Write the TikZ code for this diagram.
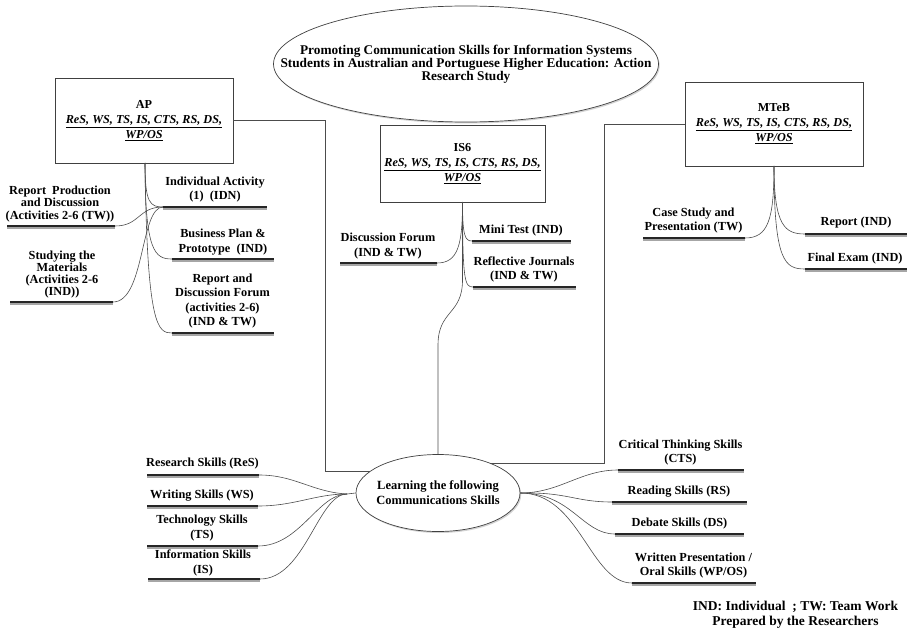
\documentclass[tikz,border=0pt]{standalone}
\usepackage{fontspec}
\setmainfont{Liberation Serif}
\usetikzlibrary{shapes.geometric,shadows}
\newcommand\ubar[2]{%
  \draw[line width=2pt, black!35] ([yshift=-1.6pt]#1) -- ([yshift=-1.6pt]#2);
  \draw[line width=2.6pt, black!85] (#1) -- (#2);}
\begin{document}
\begin{tikzpicture}[x=1pt,y=-1pt,
  lbl/.style={font=\bfseries\fontsize{12.3}{14.2}\selectfont, align=center, inner sep=0pt},
  lbltight/.style={lbl, font=\bfseries\fontsize{12.3}{12.3}\selectfont},
  boxnode/.style={draw=black!75, line width=0.7pt, align=center, inner sep=0pt,
     font=\fontsize{12.2}{15}\selectfont},
  conn/.style={draw=black!70, line width=0.6pt},
  ell/.style={ellipse, draw=black!75, line width=0.7pt, inner sep=0pt,
     drop shadow={shadow xshift=1.2pt, shadow yshift=-1.5pt, fill=black!35}, fill=white}
]
\useasboundingbox (0,0) rectangle (912,631);

% title
\node[ell, minimum width=385pt, minimum height=116pt] (title) at (466,64) {};
\node[lbl, font=\bfseries\fontsize{13.3}{12}\selectfont] (titletxt) at (title.center)
  {Promoting Communication Skills for Information Systems\\
   Students in Australian and Portuguese Higher Education: Action\\
   Research Study};

% boxes
\node[boxnode, minimum width=178pt, minimum height=85pt] (AP) at (144,120.5)
  {\textbf{AP}\\ \underline{\bfseries\itshape ReS, WS, TS, IS, CTS, RS, DS,}\\ \underline{\bfseries\itshape WP/OS}};
\node[boxnode, minimum width=165pt, minimum height=77pt] (IS6) at (462.5,163.5)
  {\textbf{IS6}\\ \underline{\bfseries\itshape ReS, WS, TS, IS, CTS, RS, DS,}\\ \underline{\bfseries\itshape WP/OS}};
\node[boxnode, minimum width=178pt, minimum height=84pt] (MTeB) at (774,124)
  {\textbf{MTeB}\\ \underline{\bfseries\itshape ReS, WS, TS, IS, CTS, RS, DS,}\\ \underline{\bfseries\itshape WP/OS}};

% central ellipse
\node[ell, minimum width=164pt, minimum height=77pt] (learn) at (438,493) {};
\node[lbl, font=\bfseries\fontsize{12.5}{15}\selectfont] (learntxt) at (learn.center)
  {Learning the following\\ Communications Skills};

% ---------- AP branches
\node[lbl] (ia) at (215,189.5) {Individual Activity\\ (1)\ \ (IDN)};
\coordinate (iaL) at (163,207); \coordinate (iaR) at (267,207);
\node[lbltight] (rpd) at (60,204) {Report\ \ Production\\ and Discussion\\ (Activities 2-6 (TW))};
\coordinate (rpdL) at (7,226); \coordinate (rpdR) at (115,226);
\node[lbltight] (sm) at (62,274.5) {Studying the\\ Materials\\ (Activities 2-6\\ (IND))};
\coordinate (smL) at (10,302); \coordinate (smR) at (113,302);
\node[lbl] (bp) at (223,242) {Business Plan \&\\ Prototype\ \ (IND)};
\coordinate (bpL) at (172,259); \coordinate (bpR) at (274,259);
\node[lbl] (rdf) at (222.5,301) {Report and\\ Discussion Forum\\ (activities 2-6)\\ (IND \& TW)};
\coordinate (rdfL) at (172,333); \coordinate (rdfR) at (274,333);
\coordinate (apS) at (145,163);

\draw[conn] (apS) .. controls (145,203) and (150,207) .. (iaL);
\draw[conn] (apS) .. controls (145,252) and (155,259) .. (bpL);
\draw[conn] (apS) .. controls (147,328) and (158,333) .. (rdfL);
\draw[conn] (rpdR) .. controls (140,226) and (138,207) .. (iaL);
\draw[conn] (smR) .. controls (145,302) and (140,207) .. (iaL);
\ubar{iaL}{iaR} \ubar{rpdL}{rpdR} \ubar{smL}{smR} \ubar{bpL}{bpR} \ubar{rdfL}{rdfR}

% ---------- IS6 branches
\node[lbl] (df) at (388,246) {Discussion Forum\\ (IND \& TW)};
\coordinate (dfL) at (340,263); \coordinate (dfR) at (437,263);
\node[lbl] (mt) at (521,231) {Mini Test (IND)};
\coordinate (mtL) at (472,241); \coordinate (mtR) at (571,241);
\node[lbl] (rj) at (524,269.5) {Reflective Journals\\ (IND \& TW)};
\coordinate (rjL) at (473,287); \coordinate (rjR) at (576,287);
\coordinate (isS) at (462.5,202);

\draw[conn] (isS) .. controls (462.5,236) and (465,241) .. (mtL);
\draw[conn] (isS) .. controls (462.5,282) and (465,287) .. (rjL);
\draw[conn] (dfR) .. controls (458,263) and (462.5,245) .. (isS);
\draw[conn] (isS) -- (462.5,280) .. controls (462.5,315) and (438,310) .. (438,345) -- (learn.north);
\ubar{dfL}{dfR} \ubar{mtL}{mtR} \ubar{rjL}{rjR}

% ---------- MTeB branches
\node[lbl] (cs) at (693.5,220.5) {Case Study and\\ Presentation (TW)};
\coordinate (csL) at (643,238); \coordinate (csR) at (745,238);
\node[lbl] (rep) at (856,223) {Report (IND)};
\coordinate (repL) at (805,234); \coordinate (repR) at (907,234);
\node[lbl] (fe) at (855,259) {Final Exam (IND)};
\coordinate (feL) at (805,269); \coordinate (feR) at (907,269);
\coordinate (mtS) at (774,166);

\draw[conn] (csR) .. controls (768,238) and (774,220) .. (mtS);
\draw[conn] (mtS) .. controls (774,226) and (785,234) .. (repL);
\draw[conn] (mtS) .. controls (774,262) and (785,269) .. (feL);
\ubar{csL}{csR} \ubar{repL}{repR} \ubar{feL}{feR}

% ---------- long connectors to central ellipse
\coordinate (apx) at (325,0);
\draw[conn] (AP.east) -- (AP.east -| apx) -- (apx |- learn.162) -- (learn.162);
\coordinate (mtx) at (604,0);
\draw[conn] (MTeB.west) -- (MTeB.west -| mtx) -- (mtx |- learn.30) -- (learn.30);

% ---------- skills left
\node[lbl] (res) at (202.5,464) {Research Skills (ReS)};
\coordinate (resL) at (147,475); \coordinate (resR) at (259,475);
\node[lbl] (ws) at (202,496) {Writing Skills (WS)};
\coordinate (wsL) at (147,506); \coordinate (wsR) at (258,506);
\node[lbl] (ts) at (202,528) {Technology Skills\\ (TS)};
\coordinate (tsL) at (147,546); \coordinate (tsR) at (258,546);
\node[lbl] (is) at (203,563) {Information Skills\\ (IS)};
\coordinate (isL) at (148,579); \coordinate (isR) at (260,579);
\coordinate (lj) at (347,494);

\draw[conn] (resR) .. controls (295,475) and (312,492) .. (lj);
\draw[conn] (wsR) .. controls (295,506) and (315,494) .. (lj);
\draw[conn] (tsR) .. controls (300,546) and (318,494) .. (lj);
\draw[conn] (isR) .. controls (305,579) and (318,494) .. (lj);
\draw[conn] (lj) -- (learn.west);
\ubar{resL}{resR} \ubar{wsL}{wsR} \ubar{tsL}{tsR} \ubar{isL}{isR}

% ---------- skills right
\node[lbl] (cts) at (680.5,452.5) {Critical Thinking Skills\\ (CTS)};
\coordinate (ctsL) at (618,470); \coordinate (ctsR) at (744,470);
\node[lbl] (rs) at (679,492) {Reading Skills (RS)};
\coordinate (rsL) at (612,502); \coordinate (rsR) at (747,502);
\node[lbl] (ds) at (679.5,524) {Debate Skills (DS)};
\coordinate (dsL) at (615,534); \coordinate (dsR) at (744,534);
\node[lbl] (wp) at (693.5,565.5) {Written Presentation /\\ Oral Skills (WP/OS)};
\coordinate (wpL) at (632,583); \coordinate (wpR) at (756,583);

\draw[conn] (learn.east) .. controls (560,493) and (580,470) .. (ctsL);
\draw[conn] (learn.east) .. controls (568,492) and (575,502) .. (rsL);
\draw[conn] (learn.east) .. controls (572,493) and (582,534) .. (dsL);
\draw[conn] (learn.east) .. controls (580,493) and (590,583) .. (wpL);
\ubar{ctsL}{ctsR} \ubar{rsL}{rsR} \ubar{dsL}{dsR} \ubar{wpL}{wpR}

% footer
\node[lbl, font=\bfseries\fontsize{13.5}{15}\selectfont] (foot) at (795.5,614.5)
  {IND: Individual\ \ ; TW: Team Work\\ Prepared by the Researchers};
\end{tikzpicture}
\end{document}
